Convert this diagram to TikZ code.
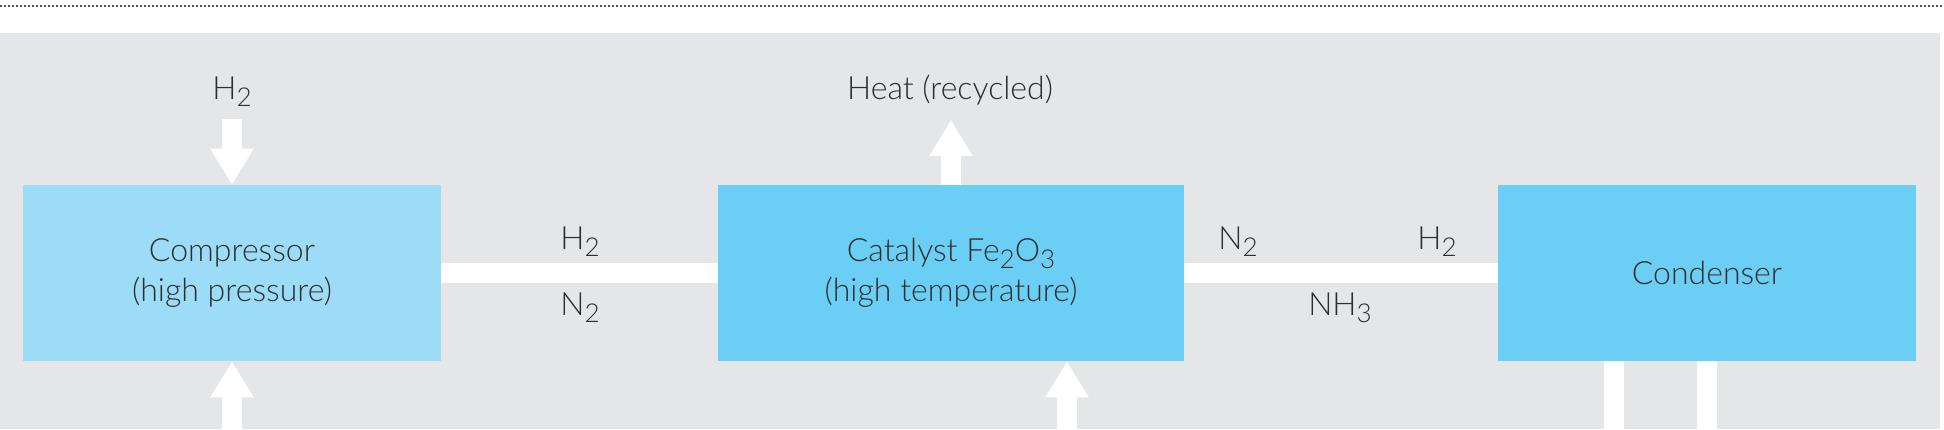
\documentclass[tikz,border=0pt]{standalone}
\usepackage{fontspec}
\setmainfont{Lato}[UprightFont=* Light]
\usetikzlibrary{arrows.meta}
\definecolor{bggray}{HTML}{E5E6E8}
\definecolor{boxlight}{HTML}{9CDCF7}
\definecolor{boxblue}{HTML}{6BCEF5}
\definecolor{txt}{HTML}{2E2E2E}
\definecolor{dotc}{HTML}{555555}
\newcommand{\dn}[1]{\raisebox{-3.5pt}{\fontsize{13}{13}\selectfont #1}}
\tikzset{
  unit/.style={rectangle, inner sep=0pt, minimum width=209pt, minimum height=88pt,
    text=txt, align=center, font=\fontsize{16}{20}\selectfont},
  lbl/.style={inner sep=0pt, text=txt, font=\fontsize{16}{20}\selectfont},
  flow/.style={draw=white, line width=10pt},
  fatarrow/.style={draw=white, line width=10pt, -{Triangle[width=20.5pt,length=18pt]}},
}
\begin{document}
\begin{tikzpicture}[x=0.5pt,y=-0.5pt]
\clip (0,0) rectangle (1944,429);
\fill[white] (0,0) rectangle (1944,429);
\draw[dotc, line width=1pt, dash pattern=on 1pt off 1pt] (0,5.5) -- (1944,5.5);
\fill[bggray] (0,33) rectangle (1940,429);

\node[unit, fill=boxlight, minimum width=209pt] (comp) at (232,273) {Compressor\\(high pressure)};
\node[unit, fill=boxblue, minimum width=233pt] (cat) at (951,273) {Catalyst Fe\dn{2}O\dn{3}\\(high temperature)};
\node[unit, fill=boxblue, minimum width=209pt] (cond) at (1707,273) {Condenser};

% horizontal flows
\draw[flow] (comp.east) -- (cat.west);
\draw[flow] (cat.east) -- (cond.west);

% vertical arrows
\coordinate (h2top) at (232,119);
\coordinate (compbot) at (232,440);
\coordinate (heattop) at (951,120);
\coordinate (catbot) at (1067,440);
\draw[fatarrow] (h2top) -- (comp.north);
\draw[fatarrow] (compbot) -- (comp.south);
\draw[fatarrow] (cat.north) -- (heattop);
\draw[fatarrow] (catbot) -- (cat.south -| catbot);

% condenser outlets
\coordinate (out1) at (1614,440);
\coordinate (out2) at (1707,440);
\draw[flow] (cond.south -| out1) -- (out1);
\draw[flow] (cond.south -| out2) -- (out2);

% labels
\node[lbl] (lh2in) at (232,92) {H\dn{2}};
\node[lbl] (lheat) at (950,90) {Heat (recycled)};
\node[lbl] (lh2a) at (580,242) {H\dn{2}};
\node[lbl] (ln2a) at (580,308) {N\dn{2}};
\node[lbl] (ln2b) at (1238,242) {N\dn{2}};
\node[lbl] (lh2b) at (1437,242) {H\dn{2}};
\node[lbl] (lnh3) at (1340,308) {NH\dn{3}};
\end{tikzpicture}
\end{document}
